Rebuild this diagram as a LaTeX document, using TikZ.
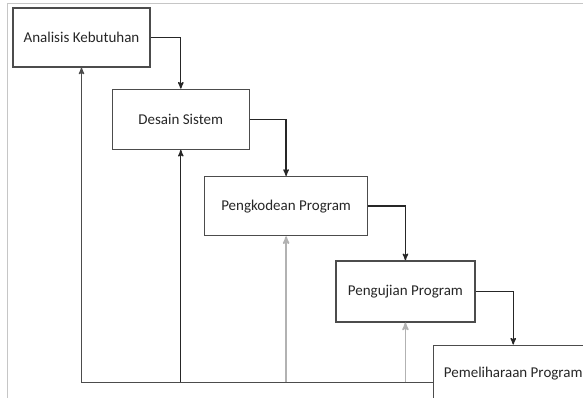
\documentclass[tikz,border=0pt]{standalone}
\usepackage{fontspec}
\setmainfont{Carlito}
\usetikzlibrary{arrows,positioning}

\begin{document}
\begin{tikzpicture}[->,>=stealth',x=1pt,y=1pt,line width=1.3pt,
			main node/.style={rectangle,draw=black!70,text=black!85,minimum width=137pt,minimum height=60pt,
				inner sep=0pt,font=\fontsize{15}{18}\selectfont},
			dark/.style={draw=black!85},
			light/.style={draw=gray!60,line width=1.6pt}]
			\useasboundingbox (0,0) rectangle (583,-398);
			\clip (0,0) rectangle (583,-398);
			\draw[-,gray!45,line width=1pt] (583,-4) -- (7,-4) -- (7,-398);
			\node[main node, minimum height=59pt] (1) at (81.5,-37.5) {Analisis Kebutuhan};
			\node[main node] (2) [below right=21pt and -39pt of 1] {Desain Sistem};
			\node[main node, minimum width=163pt, minimum height=59pt] (3) [below right=26pt and -46pt of 2] {Pengkodean Program};
			\node[main node, minimum width=139pt, minimum height=61pt] (4) [below right=24pt and -33pt of 3] {Pengujian Program};
			\node[main node, minimum width=160pt, minimum height=57pt] (5) [below right=22pt and -43pt of 4] {Pemeliharaan Program};
			\coordinate (back) at ([yshift=-8.5pt]5.west);
			\draw[dark] (1.east) -| (2.north);
			\draw[dark] (2.east) -| (3.north);
			\draw[dark] (3.east) -| (4.north);
			\draw[dark] (4.east) -| (5.north);
			\draw[draw=black!70] (back) -| (1.south);
			\draw[dark] (back -| 2.south) -- (2.south);
			\draw[light] (back -| 3.south) -- (3.south);
			\draw[light] (back -| 4.south) -- (4.south);
		\end{tikzpicture}
\end{document}
